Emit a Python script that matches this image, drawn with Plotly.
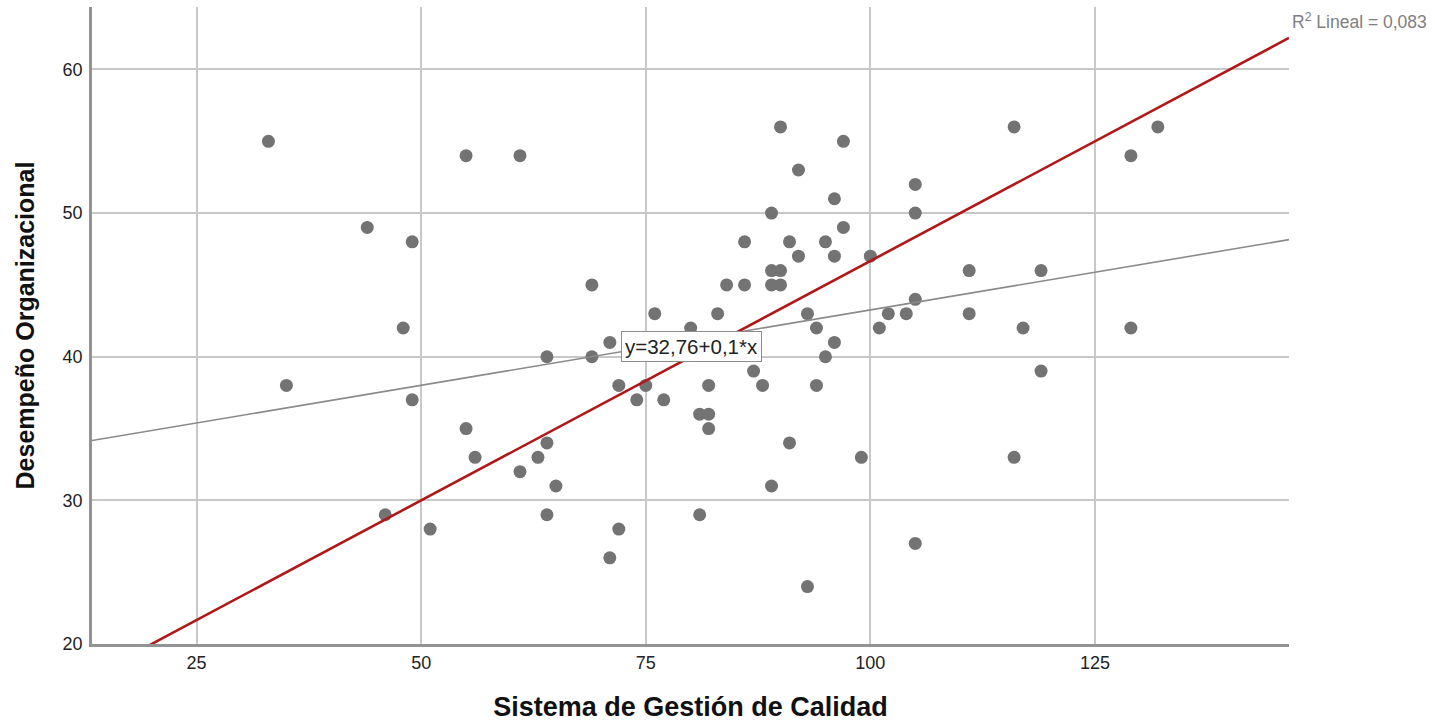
import plotly.graph_objects as go

# Scatter data: Sistema de Gestión de Calidad (x) vs Desempeño Organizacional (y)
sgc = [33, 35, 44, 48, 49, 49, 46, 51, 55, 55, 56, 61, 61, 63, 64, 64, 64, 65,
       69, 69, 71, 71, 72, 72, 74, 75, 76, 77, 80, 81, 81, 82, 82, 82, 83, 84,
       86, 86, 87, 88, 89, 89, 89, 90, 90, 90, 89, 91, 91, 92, 92, 93, 93, 94,
       94, 95, 95, 96, 96, 96, 97, 97, 99, 100, 101, 102, 104, 105, 105, 105,
       105, 111, 111, 116, 116, 117, 119, 119, 129, 129, 132]
desempeno = [55, 38, 49, 42, 48, 37, 29, 28, 54, 35, 33, 54, 32, 33, 40, 34, 29, 31,
             45, 40, 41, 26, 38, 28, 37, 38, 43, 37, 42, 36, 29, 38, 36, 35, 43, 45,
             48, 45, 39, 38, 50, 46, 45, 46, 45, 56, 31, 48, 34, 53, 47, 43, 24, 42,
             38, 48, 40, 51, 47, 41, 55, 49, 33, 47, 42, 43, 43, 52, 50, 44,
             27, 46, 43, 56, 33, 42, 46, 39, 54, 42, 56]

# Fit line (label y=32,76+0,1*x) and red reference line
fit_intercept, fit_slope = 32.76, 0.105
ref_intercept, ref_slope = 13.333, 0.33333

x_range = [13.36, 146.6]
y_range = [20, 64.35]
x_ticks = [25, 50, 75, 100, 125]
y_ticks = [20, 30, 40, 50, 60]

FONT = "Liberation Sans, Arial, sans-serif"

fig = go.Figure()

fig.add_trace(go.Scatter(
    x=sgc, y=desempeno, mode="markers",
    marker=dict(size=13, color="#737373", line=dict(width=0)),
    showlegend=False, hoverinfo="x+y"))

fig.add_trace(go.Scatter(
    x=x_range, y=[fit_intercept + fit_slope * v for v in x_range],
    mode="lines", line=dict(color="#8a8a8a", width=1.6),
    showlegend=False, hoverinfo="skip"))

fig.add_trace(go.Scatter(
    x=x_range, y=[ref_intercept + ref_slope * v for v in x_range],
    mode="lines", line=dict(color="#b01818", width=2.6),
    showlegend=False, hoverinfo="skip"))

fig.add_annotation(
    x=80.07, y=40.71, xref="x", yref="y", text="y=32,76+0,1*x",
    showarrow=False, xanchor="center", yanchor="middle",
    font=dict(family=FONT, size=20.5, color="#222222"),
    bgcolor="white", bordercolor="#8c8c8c", borderwidth=1, borderpad=3)

fig.add_annotation(
    x=1.001, y=0.978, xref="paper", yref="paper",
    text="R<sup>2</sup> Lineal = 0,083", showarrow=False,
    xanchor="left", yanchor="middle",
    font=dict(family=FONT, size=17.5, color="#808080"))

fig.update_layout(
    width=1435, height=722,
    margin=dict(l=92, r=146, t=7, b=78, autoexpand=False),
    paper_bgcolor="white", plot_bgcolor="white",
    font=dict(family=FONT, color="#222222"),
    xaxis=dict(
        range=x_range, tickvals=x_ticks, ticktext=[str(t) for t in x_ticks],
        showgrid=True, gridcolor="#c8c8c8", gridwidth=1.5,
        showline=True, linecolor="#939393", linewidth=2.5,
        ticks="", ticklabelstandoff=1, zeroline=False, automargin=False,
        tickfont=dict(size=18, color="#222222"),
        title=dict(text="<b>Sistema de Gestión de Calidad</b>",
                   font=dict(size=27, color="#111111"), standoff=27)),
    yaxis=dict(
        range=y_range, tickvals=y_ticks, ticktext=[str(t) for t in y_ticks],
        showgrid=True, gridcolor="#c8c8c8", gridwidth=1.5,
        showline=True, linecolor="#939393", linewidth=2.5,
        ticks="", ticklabelstandoff=3, zeroline=False, automargin=False,
        tickfont=dict(size=18, color="#222222"),
        title=dict(text="<b>Desempeño Organizacional</b>",
                   font=dict(size=25, color="#111111"), standoff=21)),
)

fig.write_html("out.html", config={"displayModeBar": False},
               post_script="document.body.style.margin='0px';document.body.style.padding='0px';")
